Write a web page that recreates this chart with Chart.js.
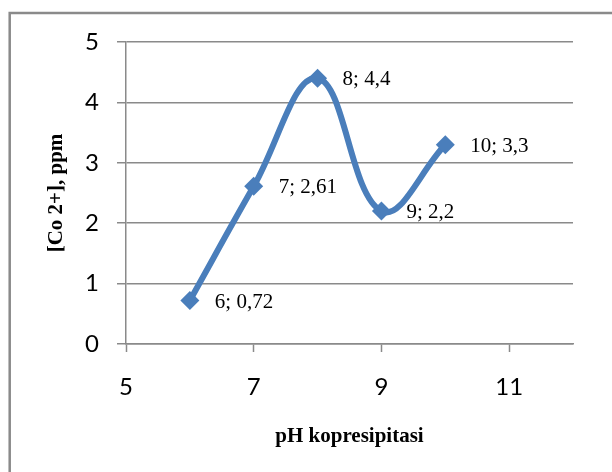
<!DOCTYPE html>
<html>
<head>
<meta charset="utf-8">
<script src="https://cdn.jsdelivr.net/npm/chart.js@4/dist/chart.umd.min.js"></script>
<style>
  html, body { margin: 0; padding: 0; background: #fff; }
  #wrap { width: 612px; height: 472px; position: relative; }
</style>
</head>
<body>
<div id="wrap"><canvas id="chart"></canvas></div>
<script>
const PH = [6, 7, 8, 9, 10];
const CO = [0.72, 2.61, 4.4, 2.2, 3.3];
const X_TICKS = [5, 7, 9, 11];

const BLUE = '#4a7ebb';
const GRID = '#8a8a8a';

// frame round the whole chart, like the Word chart border
const framePlugin = {
    id: 'frame',
    beforeDraw(chart) {
        const ctx = chart.ctx;
        ctx.save();
        ctx.strokeStyle = GRID;
        ctx.lineWidth = 2.5;
        ctx.strokeRect(9.7, 13, 900, 900);
        ctx.restore();
    }
};

// "x; y" labels to the right of each point, decimal comma
const pointLabels = {
    id: 'pointLabels',
    afterDatasetsDraw(chart) {
        const ctx = chart.ctx;
        const meta = chart.getDatasetMeta(0);
        ctx.save();
        ctx.font = '21px "Liberation Serif"';
        ctx.fillStyle = '#000';
        ctx.textAlign = 'left';
        ctx.textBaseline = 'alphabetic';
        meta.data.forEach((pt, i) => {
            const text = `${PH[i]}; ${String(CO[i]).replace('.', ',')}`;
            ctx.fillText(text, pt.x + 25, pt.y + 7);
        });
        ctx.restore();
    }
};

new Chart(document.getElementById('chart'), {
    type: 'scatter',
    data: {
        datasets: [{
            data: PH.map((x, i) => ({x: x, y: CO[i]})),
            showLine: true,
            borderColor: BLUE,
            backgroundColor: BLUE,
            borderWidth: 6,
            tension: 0.4,
            pointStyle: 'rectRot',
            pointRadius: 9.5,
            pointBorderWidth: 0,
        }]
    },
    options: {
        responsive: true,
        maintainAspectRatio: false,
        animation: false,
        devicePixelRatio: 1,
        layout: {
            padding: {top: 42, right: 39, left: 0, bottom: 0}
        },
        plugins: {
            legend: {display: false},
            tooltip: {enabled: false},
        },
        scales: {
            x: {
                type: 'linear',
                min: 5,
                max: 12,
                afterBuildTicks: scale => {
                    scale.ticks = X_TICKS.map(v => ({value: v}));
                },
                afterFit: scale => { scale.height = 128; },
                grid: {
                    drawOnChartArea: false,
                    drawTicks: true,
                    tickLength: 8,
                    tickColor: GRID,
                    tickWidth: 1.5,
                },
                border: {display: true, color: GRID, width: 1.5},
                ticks: {
                    color: '#000',
                    padding: 21,
                    font: {family: 'Lato', size: 24},
                },
                title: {
                    display: true,
                    text: 'pH kopresipitasi',
                    color: '#000',
                    font: {family: 'Liberation Serif', size: 21, weight: 'bold'},
                    padding: {top: 0, bottom: 23},
                },
            },
            y: {
                min: 0,
                max: 5,
                afterFit: scale => { scale.width = 126; },
                grid: {
                    color: GRID,
                    lineWidth: 1.5,
                    tickLength: 9,
                    tickColor: GRID,
                },
                border: {display: true, color: GRID, width: 1.5},
                ticks: {
                    stepSize: 1,
                    color: '#000',
                    padding: 18,
                    font: {family: 'Lato', size: 24},
                },
                title: {
                    display: true,
                    text: '[Co 2+], ppm',
                    color: '#000',
                    font: {family: 'Liberation Serif', size: 21, weight: 'bold'},
                    padding: {top: 44, bottom: 0},
                },
            },
        },
    },
    plugins: [framePlugin, pointLabels],
});
</script>
</body>
</html>
